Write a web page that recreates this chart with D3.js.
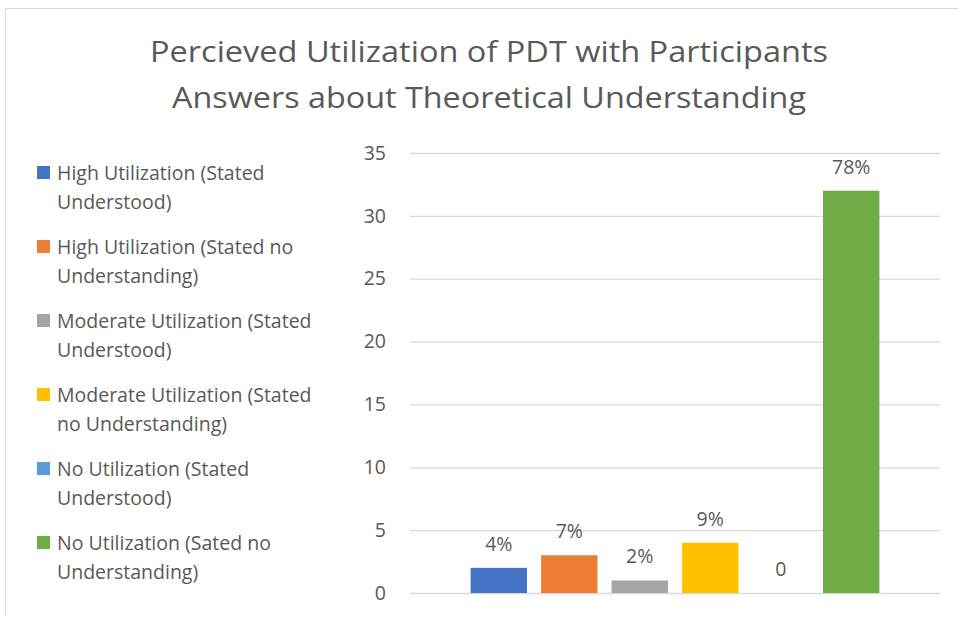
<!DOCTYPE html>
<html>
<head>
<meta charset="utf-8">
<script src="https://cdn.jsdelivr.net/npm/d3@7"></script>
<style>
  body { margin: 0; background: #fff; }
  text { font-family: "Open Sans", Lato, sans-serif; fill: #595959; }
</style>
</head>
<body>
<div class="chart"></div>
<script>
var series = [
    "High Utilization (Stated Understood)",
    "High Utilization (Stated no Understanding)",
    "Moderate Utilization (Stated Understood)",
    "Moderate Utilization (Stated no Understanding)",
    "No Utilization (Stated Understood)",
    "No Utilization (Sated no Understanding)"
];
var legendLines = [
    ["High Utilization (Stated", "Understood)"],
    ["High Utilization (Stated no", "Understanding)"],
    ["Moderate Utilization (Stated", "Understood)"],
    ["Moderate Utilization (Stated", "no Understanding)"],
    ["No Utilization (Stated", "Understood)"],
    ["No Utilization (Sated no", "Understanding)"]
];
var values = [2, 3, 1, 4, 0, 32];
var labels = ["4%", "7%", "2%", "9%", "0", "78%"];
var colors = ["#4472c4", "#ed7d31", "#a5a5a5", "#ffc000", "#5b9bd5", "#70ad47"];
var yTicks = [0, 5, 10, 15, 20, 25, 30, 35];

var width = 958, height = 617;

var svg = d3.select(".chart")
    .append("svg")
    .attr("width", width)
    .attr("height", height);

// chart frame
svg.append("rect")
    .attr("x", 5.5)
    .attr("y", 8.5)
    .attr("width", 960)
    .attr("height", 620)
    .attr("fill", "#fff")
    .attr("stroke", "#d9d9d9");

// title
var title = svg.append("text")
    .attr("text-anchor", "middle")
    .style("font-size", "29px");
title.append("tspan").attr("x", 489).attr("y", 62)
    .attr("textLength", 678).attr("lengthAdjust", "spacingAndGlyphs")
    .text("Percieved Utilization of PDT with Participants");
title.append("tspan").attr("x", 489).attr("y", 108)
    .attr("textLength", 634).attr("lengthAdjust", "spacingAndGlyphs")
    .text("Answers about Theoretical Understanding");

var plot = { l: 410, r: 940, t: 153, b: 593 };

var x = d3.scaleBand()
    .domain(series)
    .range([plot.l, plot.r])
    .paddingInner(0.2)
    .paddingOuter(0.86);

var y = d3.scaleLinear()
    .domain([0, 35])
    .range([plot.b, plot.t]);

var yAxis = d3.axisLeft(y)
    .tickValues(yTicks)
    .tickSize(-(plot.r - plot.l))
    .tickPadding(24);

var gy = svg.append("g")
    .attr("transform", "translate(" + plot.l + ",0)")
    .call(yAxis);
gy.select(".domain").remove();
gy.selectAll(".tick line").attr("stroke", "#d9d9d9").attr("stroke-width", 1.3);
gy.selectAll(".tick text")
    .style("font-size", "19.5px")
    .style("font-family", "'Open Sans', sans-serif")
    .attr("fill", "#595959");

svg.selectAll(".bar")
    .data(values)
    .enter().append("rect")
    .attr("class", "bar")
    .attr("x", function(d, i) { return x(series[i]); })
    .attr("y", function(d) { return y(d); })
    .attr("width", x.bandwidth())
    .attr("height", function(d) { return y(0) - y(d); })
    .attr("fill", function(d, i) { return colors[i]; });

svg.selectAll(".lbl")
    .data(values)
    .enter().append("text")
    .attr("class", "lbl")
    .attr("x", function(d, i) { return x(series[i]) + x.bandwidth() / 2; })
    .attr("y", function(d) { return y(d) - 17; })
    .attr("text-anchor", "middle")
    .style("font-size", "19.5px")
    .text(function(d, i) { return labels[i]; });

// legend
var legend = svg.selectAll(".legend")
    .data(legendLines)
    .enter().append("g")
    .attr("class", "legend")
    .attr("transform", function(d, i) {
        return "translate(37," + (166 + i * 74) + ")";
    });

legend.append("rect")
    .attr("width", 13)
    .attr("height", 13)
    .attr("fill", function(d, i) { return colors[i]; });

legend.append("text")
    .selectAll("tspan")
    .data(function(d) { return d; })
    .enter().append("tspan")
    .attr("x", 20)
    .attr("y", function(d, i) { return 14 + i * 29; })
    .style("font-size", "19.5px")
    .text(function(d) { return d; });
</script>
</body>
</html>
